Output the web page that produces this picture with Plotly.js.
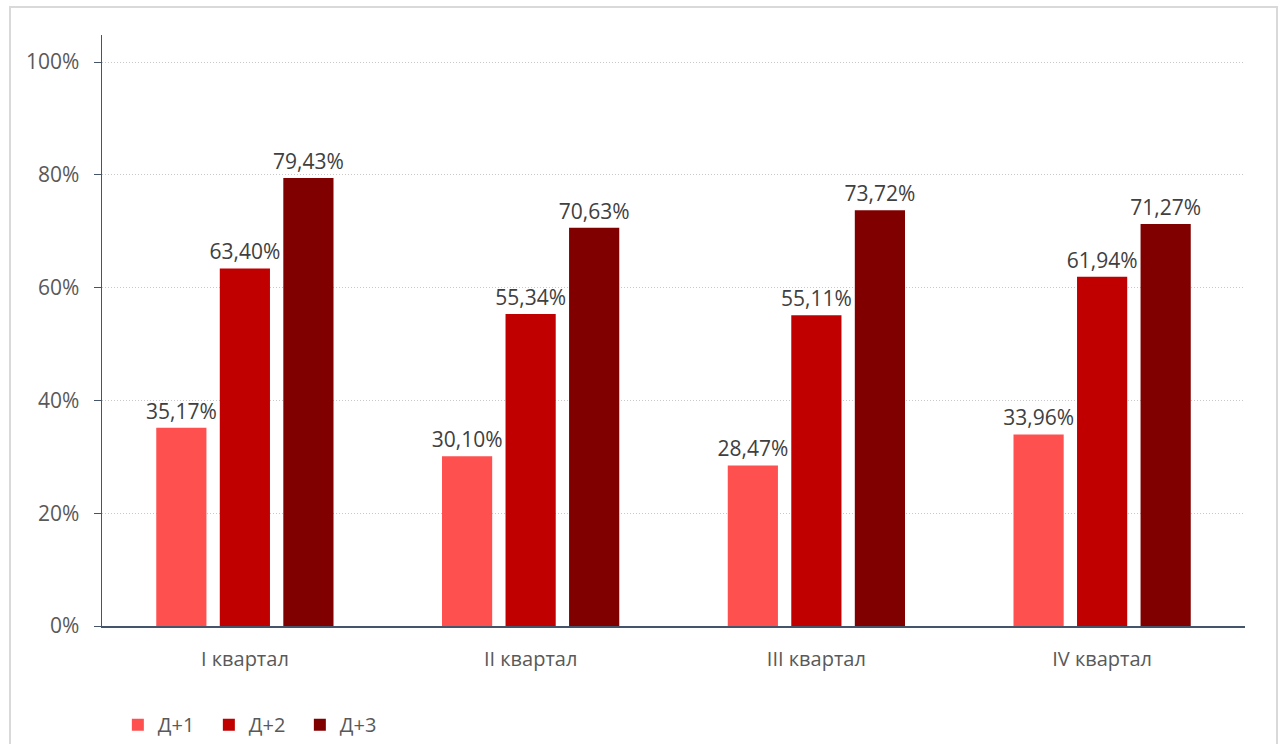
<!DOCTYPE html>
<html><head><meta charset="utf-8">
<script src="https://cdn.plot.ly/plotly-3.0.1.min.js"></script>
<style>
html,body{margin:0;padding:0;background:#fff;}
#wrap{position:relative;width:1281px;height:744px;}
#chart{position:absolute;left:0;top:0;width:1281px;height:744px;}
#frame{position:absolute;left:9px;top:6px;width:1265px;height:760px;border:2px solid #d9d9d9;pointer-events:none;}
</style></head>
<body><div id="wrap"><div id="chart"></div><div id="frame"></div></div>
<script>
const categories = ["I квартал", "II квартал", "III квартал", "IV квартал"];
const seriesNames = ["Д+1", "Д+2", "Д+3"];
const d1 = [35.17, 30.10, 28.47, 33.96];
const d2 = [63.40, 55.34, 55.11, 61.94];
const d3 = [79.43, 70.63, 73.72, 71.27];
const colors = ["#FF5050", "#C00000", "#800000"];
const yTicks = [0, 20, 40, 60, 80, 100];

const fmt = v => v.toFixed(2).replace('.', ',') + '%';
const fontFam = '"Open Sans", Lato, sans-serif';
const traces = [d1, d2, d3].map((vals, i) => ({
  type: 'bar', name: seriesNames[i], x: categories, y: vals,
  marker: {color: colors[i]},
  text: vals.map(fmt), textposition: 'outside', cliponaxis: false, constraintext: 'none',
  textfont: {family: fontFam, size: 21, color: '#404040'},
  hoverinfo: 'none'
}));
const layout = {
  width: 1281, height: 744,
  margin: {l: 102, r: 36, t: 35, b: 118},
  paper_bgcolor: 'rgba(0,0,0,0)', plot_bgcolor: '#fff',
  barmode: 'group', bargap: 0.333, bargroupgap: 0.21,
  font: {family: fontFam, size: 20, color: '#595959'},
  showlegend: true,
  legend: {orientation: 'h', xref: 'container', x: 0.092, xanchor: 'left',
           yref: 'container', y: 0.026, yanchor: 'middle',
           entrywidth: 46, entrywidthmode: 'pixels', itemwidth: 30,
           font: {size: 20, color: '#595959'}},
  xaxis: {showline: true, linecolor: '#44546A', linewidth: 1.5, ticks: '', showgrid: false,
          automargin: false, ticklabelstandoff: 14, tickfont: {size: 20, color: '#595959'}},
  yaxis: {range: [0, 104.8], tickvals: yTicks, ticktext: yTicks.map(v => v + '%'),
          automargin: false,
          showline: true, linecolor: '#44546A', linewidth: 1.5, ticks: 'outside', ticklen: 7,
          tickcolor: '#44546A', gridcolor: '#c8c8c8', griddash: '1px,2px', gridwidth: 1,
          zeroline: false, tickfont: {size: 21, color: '#595959'}, ticklabelstandoff: 10}
};
Plotly.newPlot('chart', traces, layout, {displayModeBar: false, staticPlot: true});
</script></body></html>
